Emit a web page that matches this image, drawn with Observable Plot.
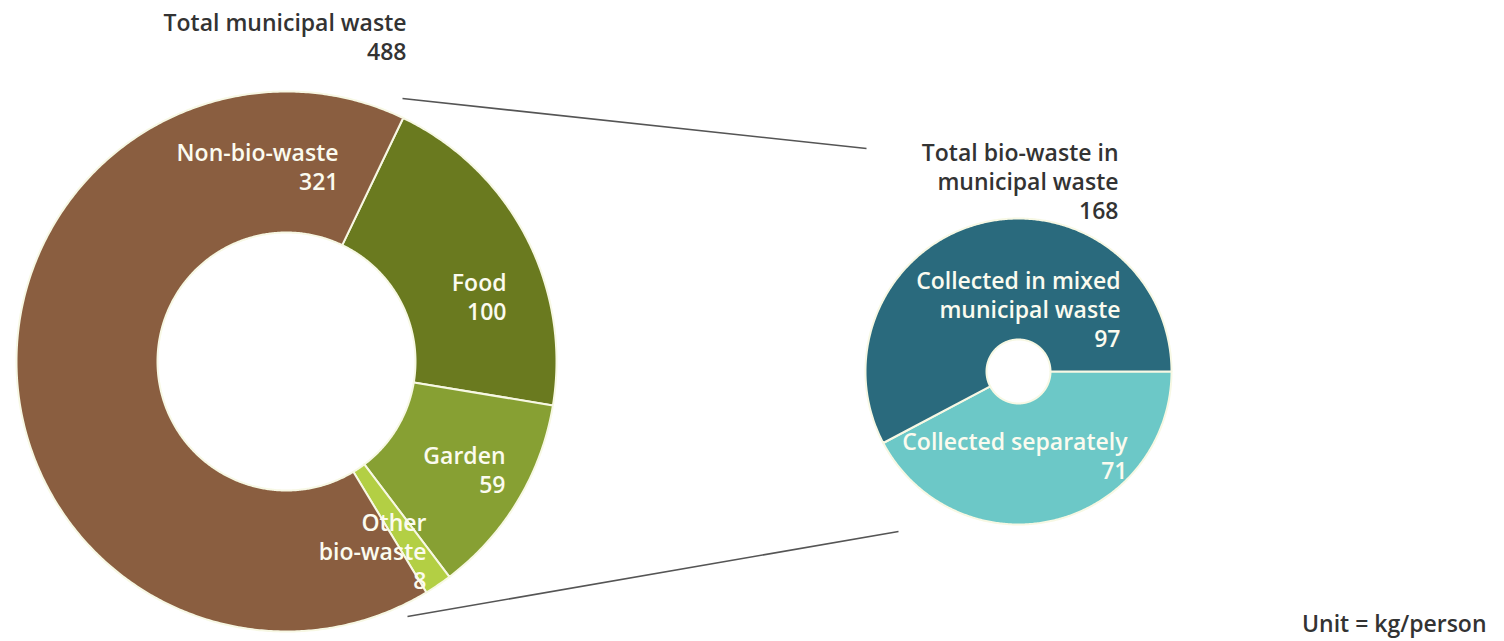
<!DOCTYPE html>
<html>
<head>
<meta charset="utf-8">
<script src="https://cdn.jsdelivr.net/npm/d3@7"></script>
<script src="https://cdn.jsdelivr.net/npm/@observablehq/plot@0.6"></script>
<style>
  html, body { margin: 0; padding: 0; background: #ffffff; }
  #chart { width: 1504px; height: 641px; }
</style>
</head>
<body>
<div id="chart"></div>
<script>
// ---------- DATA ----------
const totalLabel = "Total municipal waste";
const totalValue = 488;
const leftCategories = ["Food", "Garden", "Other\nbio-waste", "Non-bio-waste"];
const leftValues = [100, 59, 8, 321];

const bioLabel = "Total bio-waste in\nmunicipal waste";
const bioValue = 168;
const rightCategories = ["Collected separately", "Collected in mixed\nmunicipal waste"];
const rightValues = [71, 97];

const unitLabel = "Unit = kg/person";

// ---------- LAYOUT / STYLE ----------
const W = 1504, H = 641;
const leftPie = {cx: 286, cy: 361, r0: 129, r1: 270, start: 25.6};
const rightPie = {cx: 1018, cy: 371, r0: 32, r1: 153, start: 90};
const colors = {
  "Food": "#6a7a1f",
  "Garden": "#87a033",
  "Other\nbio-waste": "#b3cf44",
  "Non-bio-waste": "#8a5e40",
  "Collected separately": "#6cc8c7",
  "Collected in mixed\nmunicipal waste": "#2a6a7d"
};
const labelPos = {
  "Food": [506, 296],
  "Garden": [505, 469],
  "Other\nbio-waste": [426, 550],
  "Non-bio-waste": [338, 166],
  "Collected separately": [1127, 455],
  "Collected in mixed\nmunicipal waste": [1120, 308]
};
const leaders = [
  {x1: 402, y1: 98, x2: 866, y2: 148},
  {x1: 407, y1: 616, x2: 898, y2: 531}
];
const FONT = "'Open Sans', 'Noto Sans', sans-serif";
const FS = 23, LH = 1.26;

// ---------- GEOMETRY FROM VALUES ----------
function slices(cats, vals, pie) {
  const sum = d3.sum(vals);
  let a = pie.start;
  const pts = [];
  const out = [];
  cats.forEach((c, i) => {
    const a0 = a, a1 = a + vals[i] / sum * 360;
    a = a1;
    const n = Math.max(4, Math.ceil((a1 - a0) / 0.5));
    const poly = [];
    for (let k = 0; k <= n; k++) {
      const t = (a0 + (a1 - a0) * k / n) * Math.PI / 180;
      poly.push({x: pie.cx + pie.r1 * Math.sin(t), y: pie.cy - pie.r1 * Math.cos(t)});
    }
    for (let k = n; k >= 0; k--) {
      const t = (a0 + (a1 - a0) * k / n) * Math.PI / 180;
      poly.push({x: pie.cx + pie.r0 * Math.sin(t), y: pie.cy - pie.r0 * Math.cos(t)});
    }
    poly.forEach(p => pts.push({...p, key: c}));
    out.push({key: c, value: vals[i]});
  });
  return {pts, out};
}
const L = slices(leftCategories, leftValues, leftPie);
const R = slices(rightCategories, rightValues, rightPie);
const polys = [...L.pts, ...R.pts];

const sliceLabels = [...L.out, ...R.out].map(d => ({
  x: labelPos[d.key][0], y: labelPos[d.key][1], text: d.key + "\n" + d.value
}));
const titleLabels = [
  {x: 406, y: 36, text: totalLabel + "\n" + totalValue},
  {x: 1118, y: 180, text: bioLabel + "\n" + bioValue},
  {x: 1486, y: 622, text: unitLabel}
];

const chart = Plot.plot({
  width: W, height: H,
  margin: 0,
  x: {domain: [0, W], range: [0, W], axis: null},
  y: {domain: [0, H], range: [0, H], axis: null},
  color: {domain: Object.keys(colors), range: Object.values(colors)},
  style: {fontFamily: FONT, background: "#ffffff"},
  marks: [
    Plot.line(polys, {x: "x", y: "y", z: "key", fill: "key", stroke: "#f7f8e4", strokeWidth: 2, curve: "linear-closed"}),
    Plot.link(leaders, {x1: "x1", y1: "y1", x2: "x2", y2: "y2", stroke: "#555", strokeWidth: 1.6}),
    Plot.text(sliceLabels, {x: "x", y: "y", text: "text", textAnchor: "end", fill: "#fbfbef", fontSize: FS, fontWeight: 600, lineHeight: LH, fontFamily: FONT}),
    Plot.text(titleLabels, {x: "x", y: "y", text: "text", textAnchor: "end", fill: "#333333", fontSize: FS, fontWeight: 600, lineHeight: LH, fontFamily: FONT})
  ]
});
document.getElementById("chart").appendChild(chart);
</script>
</body>
</html>
